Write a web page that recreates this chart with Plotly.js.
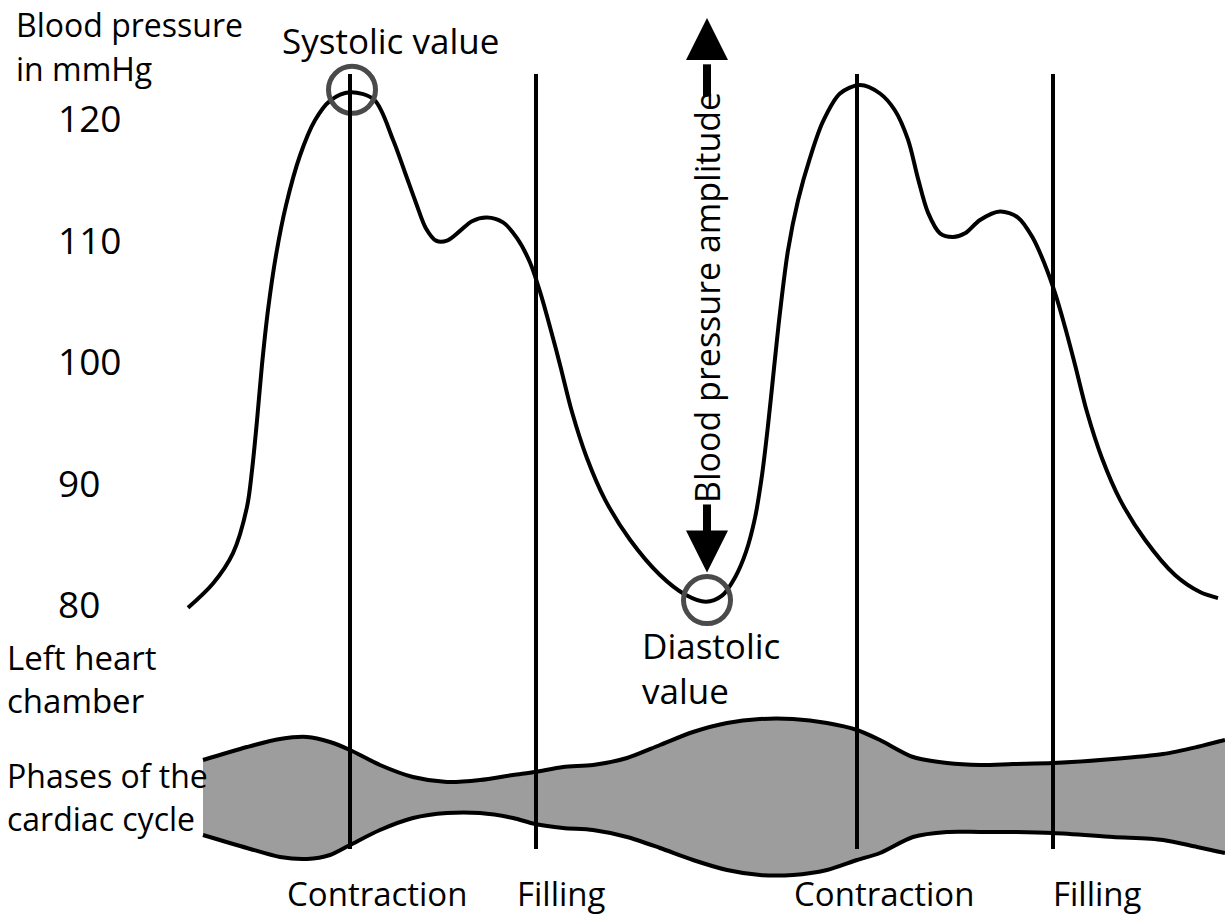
<!DOCTYPE html>
<html>
<head>
<meta charset="utf-8">
<script src="https://cdn.plot.ly/plotly-3.0.1.min.js"></script>
<style>html,body{margin:0;padding:0;background:#fff;}#chart{width:1225px;height:918px;}</style>
</head>
<body>
<div id="chart"></div>
<script>
// ---- Data (time in arbitrary units, pressure in mmHg) ----
const pressureTime = [188,213,233,247,252,257,262,268,276,286,300,315,330,350,374,393,405,416,426,436,447,460,472,487,503,517,530,540,550,560,572,587,605,630,660,685,706,722,735,746,755,762,768,774,780,788,798,810,823,840,860,880,895,908,918,928,940,953,965,980,1000,1018,1033,1045,1055,1065,1075,1087,1102,1120,1145,1175,1200,1218];
const pressureValue = [79.8,81.8,84.3,88.1,91.1,95.2,99.8,104.3,108.8,112.9,117.0,119.9,121.5,122.2,121.6,118.3,115.6,113.1,111.0,110.0,110.0,110.8,111.6,111.9,111.5,110.2,108.2,105.8,102.9,99.8,95.9,92.1,88.7,85.4,82.5,80.9,80.3,80.8,82.3,84.4,87.2,90.7,94.8,99.5,104.1,109.2,113.3,116.8,119.8,122.1,122.8,122.1,120.7,118.3,115.1,112.3,110.6,110.3,110.6,111.7,112.4,111.9,110.2,108.0,105.7,102.9,99.8,95.9,92.1,88.7,85.4,82.5,81.1,80.6];

const tickValues = [80, 90, 100, 110, 120];
const tickLabels = ["80", "90", "100", "110", "120"];

// Left heart chamber size (arbitrary units, upper and lower contour)
const chamberTime  = [203,247,280,307,330,350,380,413,447,480,513,535,563,593,627,660,693,727,760,793,827,857,880,913,947,980,1013,1053,1113,1163,1197,1225];
const chamberUpper = [3.0,4.3,5.1,5.3,4.8,4.0,2.5,1.3,0.8,1.0,1.5,1.8,2.3,2.5,3.2,4.5,5.8,6.7,7.1,7.1,6.7,6.0,5.0,3.3,2.7,2.5,2.6,2.7,3.1,3.6,4.3,5.0];
const chamberLower = [-4.5,-5.8,-6.7,-6.9,-6.5,-5.5,-4.0,-2.8,-2.3,-2.3,-2.8,-3.4,-3.8,-4.0,-4.7,-5.8,-7.0,-8.0,-8.5,-8.5,-8.0,-7.0,-6.3,-4.7,-4.2,-4.2,-4.2,-4.3,-4.7,-5.0,-5.7,-6.3];

// Phase boundaries (start of contraction / start of filling)
const phaseBoundaries = [350, 536, 857, 1053];
const phaseLabels = ["Contraction", "Filling", "Contraction", "Filling"];
const phaseLabelTime = [377, 561, 884, 1097];

// Marked values
const systolicPoint = {t: [352], v: [122.4]};
const diastolicPoint = {t: [707], v: [80.44]};

// Amplitude arrow (mmHg)
const arrowTime = [707];
const arrowUpTip = [128.3];
const arrowUpShaft = [124.5, 121.9];
const arrowDownTip = [82.7];
const arrowDownShaft = [88.3, 85.9];

// ---- Traces ----
const FONT = "Open Sans, sans-serif";
const traces = [];

traces.push({
  x: chamberTime.concat(chamberTime.slice().reverse()),
  y: chamberUpper.concat(chamberLower.slice().reverse()),
  yaxis: 'y2', mode: 'lines', fill: 'toself', fillcolor: '#9d9d9d',
  line: {width: 0, shape: 'spline', smoothing: 0.8}, hoverinfo: 'skip'
});
traces.push({x: chamberTime, y: chamberUpper, yaxis: 'y2', mode: 'lines',
  line: {color: '#000', width: 4, shape: 'spline', smoothing: 0.8}, hoverinfo: 'skip'});
traces.push({x: chamberTime, y: chamberLower, yaxis: 'y2', mode: 'lines',
  line: {color: '#000', width: 4, shape: 'spline', smoothing: 0.8}, hoverinfo: 'skip'});

traces.push({x: pressureTime, y: pressureValue, mode: 'lines',
  line: {color: '#000', width: 4, shape: 'spline', smoothing: 0.9}, hoverinfo: 'skip'});

traces.push({x: systolicPoint.t.concat(diastolicPoint.t), y: systolicPoint.v.concat(diastolicPoint.v),
  mode: 'markers', marker: {symbol: 'circle-open', size: 47, color: '#4a4a4a', line: {width: 5, color: '#4a4a4a'}}, hoverinfo: 'skip'});

traces.push({x: [arrowTime[0], arrowTime[0]], y: arrowUpShaft, mode: 'lines', line: {color: '#000', width: 8}, hoverinfo: 'skip'});
traces.push({x: [arrowTime[0], arrowTime[0]], y: arrowDownShaft, mode: 'lines', line: {color: '#000', width: 8}, hoverinfo: 'skip'});
traces.push({x: arrowTime, y: arrowUpTip, mode: 'markers', marker: {symbol: 'arrow-up', size: 42, color: '#000', line: {width: 0}}, hoverinfo: 'skip'});
traces.push({x: arrowTime, y: arrowDownTip, mode: 'markers', marker: {symbol: 'arrow-down', size: 42, color: '#000', line: {width: 0}}, hoverinfo: 'skip'});

// ---- Layout ----
const W = 1225, H = 918;
function px(x) { return x / W; }
function py(y) { return 1 - y / H; }
function label(text, x, y, anchor, size, extra) {
  return Object.assign({text: text, xref: 'paper', yref: 'paper', x: px(x), y: py(y),
    xanchor: anchor, yanchor: 'middle', showarrow: false,
    font: {family: FONT, size: size, color: '#000'}}, extra || {});
}

const annotations = [
  label('Blood pressure', 14, 25, 'left', 32),
  label('in mmHg', 14, 68, 'left', 32),
  label('Systolic value', 280, 41, 'left', 35),
  label('Left heart', 5, 657, 'left', 33),
  label('chamber', 5, 700, 'left', 33),
  label('Phases of the', 5, 775, 'left', 32),
  label('cardiac cycle', 5, 818, 'left', 32),
  label('Diastolic', 640, 645, 'left', 35),
  label('value', 640, 690, 'left', 35),
  label('Blood pressure amplitude', 707, 298, 'center', 34, {textangle: -90})
];
phaseLabels.forEach((t, i) => {
  annotations.push({text: t, xref: 'x', yref: 'paper', x: phaseLabelTime[i], y: py(893),
    xanchor: 'center', yanchor: 'middle', showarrow: false, font: {family: FONT, size: 33, color: '#000'}});
});

const shapes = phaseBoundaries.map(t => ({type: 'line', xref: 'x', yref: 'paper',
  x0: t, x1: t, y0: py(849), y1: py(74), line: {color: '#000', width: 4}, layer: 'above'}));

const layout = {
  width: W, height: H,
  margin: {l: 0, r: 0, t: 0, b: 0},
  paper_bgcolor: '#fff', plot_bgcolor: '#fff',
  showlegend: false,
  xaxis: {range: [0, 1225], visible: false, fixedrange: true},
  yaxis: {range: [54.29, 129.79], showgrid: false, zeroline: false, showline: false,
    tickvals: tickValues, ticktext: tickLabels, ticks: '', ticklabelposition: 'inside',
    ticklabelstandoff: 55, tickfont: {family: FONT, size: 37, color: '#000'}, fixedrange: true},
  yaxis2: {range: [-12.8, 79], overlaying: 'y', visible: false, fixedrange: true},
  annotations: annotations,
  shapes: shapes
};

Plotly.newPlot('chart', traces, layout, {staticPlot: true, displayModeBar: false});
</script>
</body>
</html>
